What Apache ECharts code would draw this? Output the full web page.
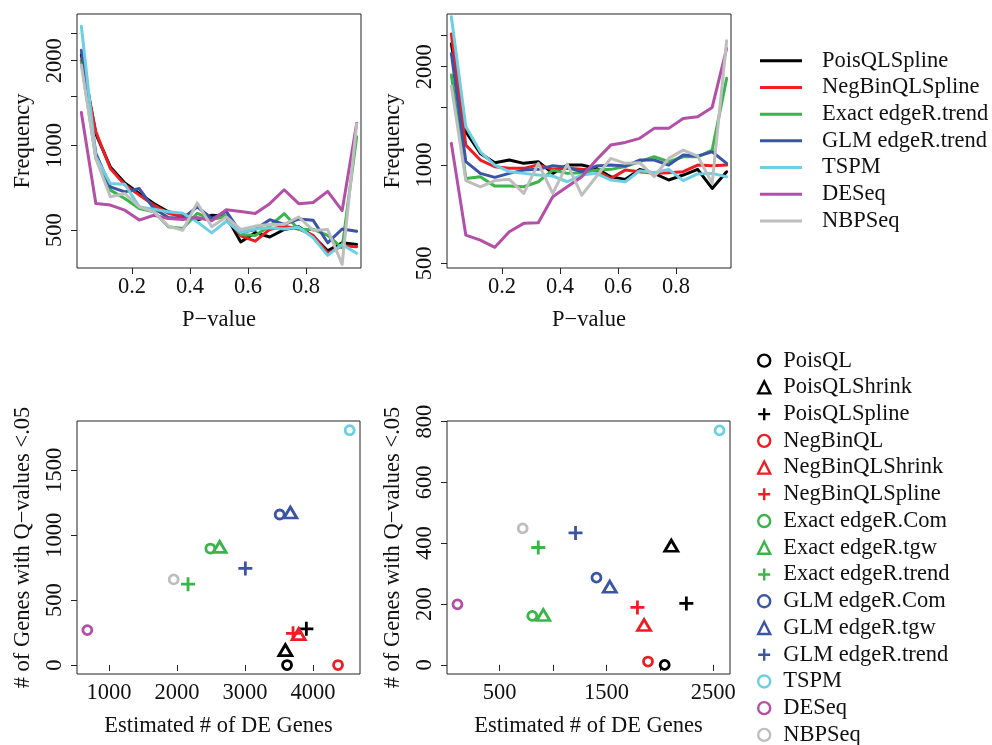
<!DOCTYPE html>
<html><head><meta charset="utf-8">
<script src="https://cdn.jsdelivr.net/npm/echarts@6/dist/echarts.min.js"></script>
<style>html,body{margin:0;padding:0;background:#fff}#c{width:992px;height:745px}</style>
</head><body><div id="c"></div>
<script>
// ---------- data ----------
const pBins = [0.025,0.075,0.125,0.175,0.225,0.275,0.325,0.375,0.425,0.475,0.525,0.575,0.625,0.675,0.725,0.775,0.825,0.875,0.925,0.975];
const lineMethods = ['PoisQLSpline','NegBinQLSpline','Exact edgeR.trend','GLM edgeR.trend','TSPM','DESeq','NBPSeq'];
const lineColors = ['#000000','#EE1D23','#3AB54A','#3B54A5','#6CCFE2','#B34FA6','#BEBEBE'];

// left histogram panel (frequency per p-value bin)
const leftPoisQLSpline   = [2100,1100,839,735,675,622,581,565,543,565,560,454,490,473,503,514,476,422,451,445];
const leftNegBinQLSpline = [2000,1118,828,725,666,614,574,558,550,550,557,477,457,503,517,505,479,414,440,437];
const leftExactTrend     = [1980,900,694,648,597,581,514,507,574,546,563,483,479,517,573,503,503,479,433,1073];
const leftGLMTrend       = [2180,937,713,684,703,597,555,550,605,550,583,490,503,545,524,548,542,451,505,496];
const leftTSPM           = [2650,911,733,728,605,593,581,574,535,489,538,490,505,510,505,512,470,407,445,414];
const leftDESeq          = [1310,622,614,589,543,565,550,546,555,540,591,583,573,621,696,621,627,687,587,1196];
const leftNBPSeq         = [1930,899,657,675,605,581,517,500,625,514,557,503,517,524,524,557,499,503,378,1189];

// right histogram panel
const rightPoisQLSpline   = [2350,1265,1085,1016,1036,1012,1024,943,1000,1000,977,921,904,970,943,900,932,970,848,954];
const rightNegBinQLSpline = [2518,1151,1036,988,977,977,1000,970,977,970,961,910,965,954,943,947,954,1000,995,1000];
const rightExactTrend     = [1886,910,921,862,862,858,889,965,943,947,965,970,989,1024,1060,1024,1060,1060,1111,1842];
const rightGLMTrend       = [2197,1024,943,917,943,965,970,995,984,954,993,1000,993,1036,1036,1000,1073,1065,1098,1012];
const rightTSPM           = [2845,1310,1098,1000,954,943,932,925,889,932,943,900,889,961,947,970,896,939,943,921];
const rightDESeq          = [1165,610,589,560,625,663,666,800,858,921,1036,1151,1173,1207,1295,1295,1389,1406,1501,2276];
const rightNBPSeq         = [1745,896,858,896,904,819,1012,819,1007,809,921,1048,1012,1017,921,1048,1111,1065,879,2402];

const leftLines  = [leftPoisQLSpline,leftNegBinQLSpline,leftExactTrend,leftGLMTrend,leftTSPM,leftDESeq,leftNBPSeq];
const rightLines = [rightPoisQLSpline,rightNegBinQLSpline,rightExactTrend,rightGLMTrend,rightTSPM,rightDESeq,rightNBPSeq];

// scatter panels
const pointMethods = ['PoisQL','PoisQLShrink','PoisQLSpline','NegBinQL','NegBinQLShrink','NegBinQLSpline',
  'Exact edgeR.Com','Exact edgeR.tgw','Exact edgeR.trend','GLM edgeR.Com','GLM edgeR.tgw','GLM edgeR.trend',
  'TSPM','DESeq','NBPSeq'];
const pointColors = ['#000000','#000000','#000000','#EE1D23','#EE1D23','#EE1D23','#3AB54A','#3AB54A','#3AB54A',
  '#3B54A5','#3B54A5','#3B54A5','#6CCFE2','#B34FA6','#BEBEBE'];
const pointShapes = ['circle','triangle','plus','circle','triangle','plus','circle','triangle','plus',
  'circle','triangle','plus','circle','circle','circle'];
const leftEstDE  = [3618,3593,3902,4368,3789,3706,2490,2627,2162,3510,3667,3005,4539,681,1951];
const leftSigQ   = [0,115,279,0,238,244,897,910,623,1159,1174,744,1808,269,659];
const rightEstDE = [2045,2107,2248,1889,1852,1790,805,908,861,1406,1531,1210,2559,104,715];
const rightSigQ  = [0,392,202,11,131,189,161,164,386,287,257,434,771,199,449];

// tick values / labels
const pTicks = [0.2,0.4,0.6,0.8];
const freqTicks = [500,1000,1500,2000,2500];
const freqLabels = [500,1000,2000];
const leftXTicks = [1000,2000,3000,4000];
const leftYTicks = [0,500,1000,1500];
const rightXTicks = [500,1000,1500,2000,2500];
const rightXLabels = [500,1500,2500];
const rightYTicks = [0,200,400,600,800];

// ---------- chart ----------
const FONT = '"Liberation Serif","Times New Roman",serif';
const FS = 22.5;
const TXT = '#111';
const shapeSymbol = {
  circle: {symbol:'circle', size:9},
  triangle: {symbol:'triangle', size:[13,11]},
  plus: {symbol:'path://M0,7H14M7,0V14', size:14}
};

function xAx(grid, min, max, ticks, labels, fmt) {
  return {gridIndex:grid, type:'value', min:min, max:max,
    name: grid < 2 ? 'P\u2212value' : 'Estimated # of DE Genes',
    nameLocation:'middle', nameGap:41,
    nameTextStyle:{fontSize:FS, fontFamily:FONT, color:TXT},
    axisLine:{show:false}, splitLine:{show:false},
    axisTick:{show:true, length:6, customValues:ticks, lineStyle:{color:'#222', width:1}},
    axisLabel:{customValues:labels, margin:8, fontSize:FS, fontFamily:FONT, color:TXT, formatter:fmt}};
}
function yAx(grid, type, min, max, ticks, labels, margin) {
  return {gridIndex:grid, type:type, min:min, max:max,
    name: grid < 2 ? 'Frequency' : '# of Genes with Q\u2212values <.05',
    nameLocation:'middle', nameGap:42, nameRotate:90, nameMoveOverlap:false,
    nameTextStyle:{fontSize:FS, fontFamily:FONT, color:TXT},
    axisLine:{show:false}, splitLine:{show:false}, minorTick:{show:false},
    axisTick:{show:true, length:6, customValues:ticks, lineStyle:{color:'#222', width:1}},
    axisLabel:{customValues:labels, rotate:90, margin:margin, fontSize:FS, fontFamily:FONT, color:TXT,
      formatter:(v)=>String(Math.round(v))}};
}

const gridBase = {show:true, borderColor:'#222', borderWidth:1, backgroundColor:'rgba(0,0,0,0)'};
const series = [];
[leftLines, rightLines].forEach((set, g) => {
  set.forEach((arr, i) => {
    series.push({type:'line', name:lineMethods[i], xAxisIndex:g, yAxisIndex:g,
      data: pBins.map((p, k) => [p, arr[k]]), symbol:'none', showSymbol:false,
      color: lineColors[i],
      lineStyle:{width:3, color:lineColors[i], cap:'round', join:'round'},
      z: 2 + i, silent:true});
  });
});
[[leftEstDE,leftSigQ],[rightEstDE,rightSigQ]].forEach((pair, j) => {
  pointMethods.forEach((m, i) => {
    const sh = shapeSymbol[pointShapes[i]];
    series.push({type:'scatter', name:'s:' + m, xAxisIndex:2 + j, yAxisIndex:2 + j,
      data:[[pair[0][i], pair[1][i]]], symbol:sh.symbol, symbolSize:sh.size,
      color: pointColors[i],
      itemStyle:{color:'rgba(0,0,0,0)', borderColor:pointColors[i], borderWidth:2.8, opacity:1},
      z: 3, silent:true});
  });
});

const option = {
  animation:false,
  textStyle:{fontFamily:FONT},
  grid:[
    Object.assign({left:77, top:14, width:284, height:254}, gridBase),
    Object.assign({left:447, top:14, width:284, height:254}, gridBase),
    Object.assign({left:77, top:421, width:283, height:253}, gridBase),
    Object.assign({left:447, top:421, width:283, height:253}, gridBase)
  ],
  xAxis:[
    xAx(0, 0.01, 0.99, pTicks, pTicks, (v)=>v.toFixed(1)),
    xAx(1, 0.01, 0.99, pTicks, pTicks, (v)=>v.toFixed(1)),
    xAx(2, 529, 4691, leftXTicks, leftXTicks, (v)=>String(Math.round(v))),
    xAx(3, 6, 2657, rightXTicks, rightXLabels, (v)=>String(Math.round(v)))
  ],
  yAxis:[
    yAx(0, 'log', 367, 2930, freqTicks, freqLabels, 10),
    yAx(1, 'log', 484, 2900, freqTicks, freqLabels, 10),
    yAx(2, 'value', -69, 1879, leftYTicks, leftYTicks, 10),
    yAx(3, 'value', -30, 802, rightYTicks, rightYTicks, 10)
  ],
  legend:[
    {orient:'vertical', left:760, top:47.3, height:300, padding:0, itemGap:0,
      itemWidth:42, itemHeight:3, selectedMode:false,
      data: lineMethods.map((m, i) => ({name:m, icon:'rect', itemStyle:{color:lineColors[i], borderWidth:0}})),
      textStyle:{fontSize:FS, fontFamily:FONT, color:TXT, lineHeight:26.73, padding:[0,0,0,15]}},
    {orient:'vertical', left:757, top:347.3, height:460, padding:0, itemGap:0,
      itemWidth:12, itemHeight:12, selectedMode:false,
      data: pointMethods.map(m => 's:' + m),
      formatter:(n)=>n.replace(/^s:/, ''),
      itemStyle:{borderWidth:2.4, opacity:1},
      textStyle:{fontSize:FS, fontFamily:FONT, color:TXT, lineHeight:26.73, padding:[0,0,0,8]}}
  ],
  series: series
};
const chart = echarts.init(document.getElementById('c'), null, {renderer:'canvas'});
chart.setOption(option);
</script>
</body></html>
